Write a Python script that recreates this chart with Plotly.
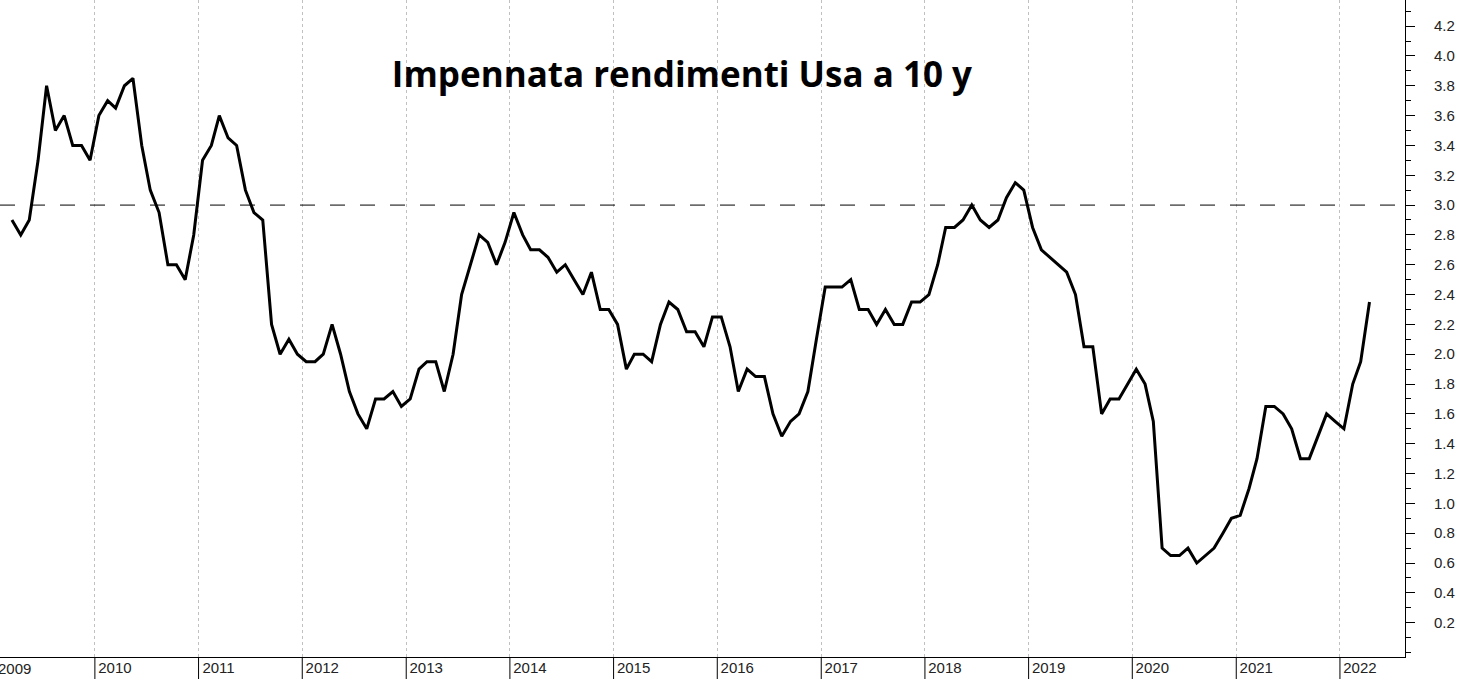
import plotly.graph_objects as go
import pandas as pd

start = "2009-02-15"
values = [
 2.9,2.8,2.9,3.3,3.8,3.5,3.6,3.4,3.4,3.3,3.6,
 3.7,3.65,3.8,3.85,3.4,3.1,2.95,2.6,2.6,2.5,2.8,3.3,
 3.4,3.6,3.45,3.4,3.1,2.95,2.9,2.2,2.0,2.1,2.0,1.95,
 1.95,2.0,2.2,2.0,1.75,1.6,1.5,1.7,1.7,1.75,1.65,1.7,
 1.9,1.95,1.95,1.75,2.0,2.4,2.6,2.8,2.75,2.6,2.75,2.95,
 2.8,2.7,2.7,2.65,2.55,2.6,2.5,2.4,2.55,2.3,2.3,2.2,
 1.9,2.0,2.0,1.95,2.2,2.35,2.3,2.15,2.15,2.05,2.25,2.25,
 2.05,1.75,1.9,1.85,1.85,1.6,1.45,1.55,1.6,1.75,2.1,2.45,
 2.45,2.45,2.5,2.3,2.3,2.2,2.3,2.2,2.2,2.35,2.35,2.4,
 2.6,2.85,2.85,2.9,3.0,2.9,2.85,2.9,3.05,3.15,3.1,2.85,
 2.7,2.65,2.6,2.55,2.4,2.05,2.05,1.6,1.7,1.7,1.8,1.9,
 1.8,1.55,0.7,0.65,0.65,0.7,0.6,0.65,0.7,0.8,0.9,0.92,
 1.1,1.3,1.65,1.65,1.6,1.5,1.3,1.3,1.45,1.6,1.55,1.5,
 1.8,1.95,2.35]
dates = pd.date_range(start, periods=len(values), freq="MS") + pd.Timedelta(days=14)
ref_level = 3.0
title = "Impennata rendimenti Usa a 10 y"
years = list(range(2009, 2023))
ytick_vals = [round(0.2*i, 1) for i in range(1, 22)]

fig = go.Figure(go.Scatter(x=dates, y=values, mode="lines",
                           line=dict(color="black", width=3), hoverinfo="skip"))
fig.add_hline(y=ref_level, line=dict(color="black", width=1, dash="longdash"))
for yr in years:
    fig.add_shape(type="line", xref="x", yref="paper", x0=f"{yr}-01-01", x1=f"{yr}-01-01",
                  y0=0, y1=-0.035, line=dict(color="black", width=1))
fig.add_annotation(x=0, xref="paper", y=0, yref="paper", yanchor="top",
                   xanchor="left", xshift=-4, yshift=-1, text=str(years[0]), showarrow=False,
                   font=dict(family="Arial", size=15, color="#222"))
fig.update_layout(
    width=1476, height=679, margin=dict(l=0, r=71, t=0, b=22),
    plot_bgcolor="white", paper_bgcolor="white", showlegend=False,
    title=dict(text="<b>"+title+"</b>", x=0.462, xanchor="center", y=0.89, yanchor="middle",
               font=dict(family="Open Sans", size=35, color="black")),
    xaxis=dict(range=["2009-02-01", "2022-08-18"], tickvals=[f"{y}-01-01" for y in years],
               ticktext=[str(y) for y in years], ticklabelshift=20, ticklabelstandoff=-3,
               showgrid=True, gridcolor="#c0c0c0", griddash="dot", gridwidth=1,
               showline=True, linecolor="black", linewidth=1, ticks="",
               tickfont=dict(family="Arial", size=15, color="#222")),
    yaxis=dict(side="right", range=[-0.03, 4.375], tickvals=ytick_vals,
               ticktext=[f"{v:.1f}" for v in ytick_vals], showgrid=False,
               showline=True, linecolor="black", linewidth=1, mirror=True,
               ticks="outside", ticklen=9, tickcolor="black", ticklabelstandoff=16,
               minor=dict(dtick=0.1, tick0=0.1, ticks="outside", ticklen=5, tickcolor="black"),
               tickfont=dict(family="Arial", size=15, color="#222"), zeroline=False),
)
fig.write_html("out.html", config={"displayModeBar": False},
               post_script="document.body.style.margin='0';document.body.style.overflow='hidden';")
